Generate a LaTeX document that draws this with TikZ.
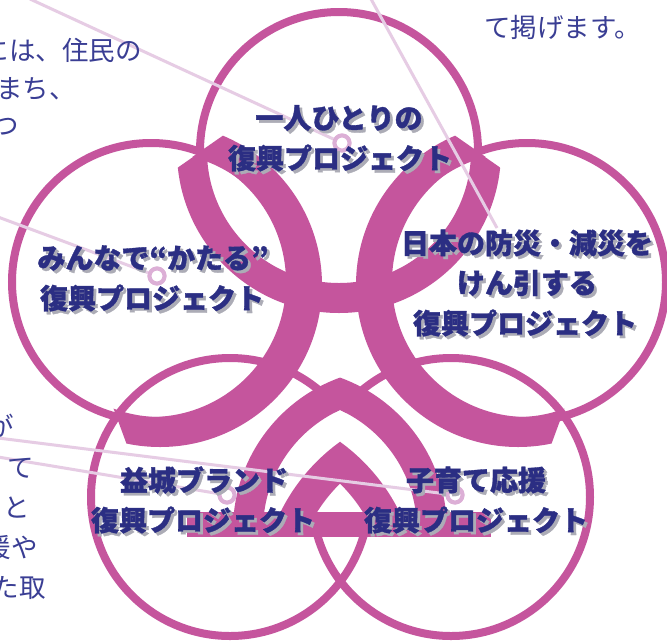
\documentclass[tikz,border=0pt]{standalone}
\usepackage{fontspec}
\newfontfamily\jp{Noto Sans CJK JP}[BoldFeatures={FakeBold=1.2}]
\definecolor{pk}{HTML}{C5559D}
\definecolor{navy}{HTML}{2B2E83}
\definecolor{shd}{HTML}{ACACB6}
\definecolor{paratext}{HTML}{3A3E94}
\definecolor{lnk}{HTML}{E6CCE4}
\definecolor{ringc}{HTML}{DCAFD6}
\tikzset{
  thin/.style={draw=pk, line width=8pt},
  band/.style={fill=pk, even odd rule},
  lab/.style={font={\jp\bfseries\fontsize{28pt}{28pt}\selectfont}, text=navy, inner sep=0pt},
  labs/.style={font={\jp\bfseries\fontsize{28pt}{28pt}\selectfont}, text=shd, inner sep=0pt, xshift=2.8pt, yshift=-2.8pt},
  para/.style={font={\jp\fontsize{26.5pt}{26.5pt}\selectfont}, text=paratext, inner sep=0pt},
  link/.style={draw=lnk, line width=3pt},
  ringst/.style={circle, draw=ringc, line width=4pt, fill=white, minimum size=15pt, inner sep=0pt},
}
\begin{document}
\begin{tikzpicture}[x=1pt,y=-1pt]
\useasboundingbox (0,0) rectangle (667,641);
\clip (0,0) rectangle (667,641);
\fill[white] (0,0) rectangle (667,641);

% circle centres
\coordinate (T) at (339,151);
\coordinate (L) at (151,282);
\coordinate (R) at (527,282);
\coordinate (BL) at (230,497);
\coordinate (BR) at (451,497);
% band centres
\coordinate (Lb) at (160,285);
\coordinate (Rb) at (518,285);
\coordinate (OAl) at (395,530);
\coordinate (OAr) at (285,530);
\coordinate (IAl) at (451,596);
\coordinate (IAr) at (229,596);

% thin circles
\foreach \c in {T,L,R,BL,BR} \draw[thin] (\c) circle[radius=139];

% white gap under the bottom arch
\begin{scope}
  \clip (0,0) rectangle (340,512);
  \fill[white] (OAl) circle[radius=132];
\end{scope}
\begin{scope}
  \clip (340,0) rectangle (667,512);
  \fill[white] (OAr) circle[radius=132];
\end{scope}

% top band
\begin{scope}
  \clip (339,55.1) -- (-128,381) -- (-128,800) -- (806,800) -- (806,381) -- cycle;
  \fill[band] (T) circle[radius=162] (T) circle[radius=132];
\end{scope}
% left band
\begin{scope}
  \clip (56,252) -- (548,-91) -- (1000,-91) -- (1000,815) -- (263,815) -- cycle;
  \fill[band] (Lb) circle[radius=162] (Lb) circle[radius=132];
\end{scope}
% right band
\begin{scope}
  \clip (622,252) -- (130,-91) -- (-322,-91) -- (-322,815) -- (415,815) -- cycle;
  \fill[band] (Rb) circle[radius=162] (Rb) circle[radius=132];
\end{scope}
% bottom arches
\begin{scope}
  \clip (0,0) rectangle (340,515);
  \fill[band] (OAl) circle[radius=162] (OAl) circle[radius=132];
  \fill[band] (IAl) circle[radius=190] (IAl) circle[radius=158];
\end{scope}
\begin{scope}
  \clip (340,0) rectangle (667,515);
  \fill[band] (OAr) circle[radius=162] (OAr) circle[radius=132];
  \fill[band] (IAr) circle[radius=190] (IAr) circle[radius=158];
\end{scope}
\fill[pk] (187,512) rectangle (491,537);

% connectors
\node[ringst] (r1) at (342,143) {};
\node[ringst] (r2) at (157,276) {};
\node[ringst] (r3) at (227,495) {};
\node[ringst] (r4) at (455,495) {};
\coordinate (a0) at (30,-1);
\coordinate (b0) at (371,-1);
\coordinate (b1) at (497,228);
\coordinate (c0) at (-2,217);
\coordinate (d0) at (-2,438);
\coordinate (e0) at (-2,457);
\draw[link] (a0) -- (r1);
\draw[link] (b0) -- (b1);
\draw[link] (c0) -- (r2);
\draw[link] (d0) -- (r4);
\draw[link] (e0) -- (r3);
\node[ringst] at (r1) {};
\node[ringst] at (r2) {};
\node[ringst] at (r3) {};
\node[ringst] at (r4) {};

% paragraph fragments
\node[para, anchor=west] (p1) at (-17.5,50) {には、住民の};
\node[para, anchor=west] (p2) at (-4,89) {まち、};
\node[para, anchor=west] (p3) at (-7.5,127) {つ};
\node[para, anchor=west] (p4) at (484,27) {て掲げます。};
\node[para, anchor=west] (q1) at (-12.5,426) {が};
\node[para, anchor=west] (q2) at (7,468) {て};
\node[para, anchor=west] (q3) at (3.5,508) {と};
\node[para, anchor=west] (q4) at (-15.5,547) {援や};
\node[para, anchor=west] (q5) at (-7.5,588) {た取};

% labels with shadows
\node[labs] (t1s) at (339,118) {一人ひとりの};
\node[lab]  (t1)  at (339,118) {一人ひとりの};
\node[labs] (t2s) at (340,158) {復興プロジェクト};
\node[lab]  (t2)  at (340,158) {復興プロジェクト};

\node[labs] (l1s) at (153,258) {みんなで“かたる”};
\node[lab]  (l1)  at (153,258) {みんなで“かたる”};
\node[labs] (l2s) at (152,298) {復興プロジェクト};
\node[lab]  (l2)  at (152,298) {復興プロジェクト};

\node[labs] (g1s) at (527,243) {日本の防災・減災を};
\node[lab]  (g1)  at (527,243) {日本の防災・減災を};
\node[labs] (g2s) at (527,283) {けん引する};
\node[lab]  (g2)  at (527,283) {けん引する};
\node[labs] (g3s) at (525,323) {復興プロジェクト};
\node[lab]  (g3)  at (525,323) {復興プロジェクト};

\node[labs] (m1s) at (204,480) {益城ブランド};
\node[lab]  (m1)  at (204,480) {益城ブランド};
\node[labs] (m2s) at (203,520) {復興プロジェクト};
\node[lab]  (m2)  at (203,520) {復興プロジェクト};

\node[labs] (k1s) at (476,480) {子育て応援};
\node[lab]  (k1)  at (476,480) {子育て応援};
\node[labs] (k2s) at (476,520) {復興プロジェクト};
\node[lab]  (k2)  at (476,520) {復興プロジェクト};
\end{tikzpicture}
\end{document}
